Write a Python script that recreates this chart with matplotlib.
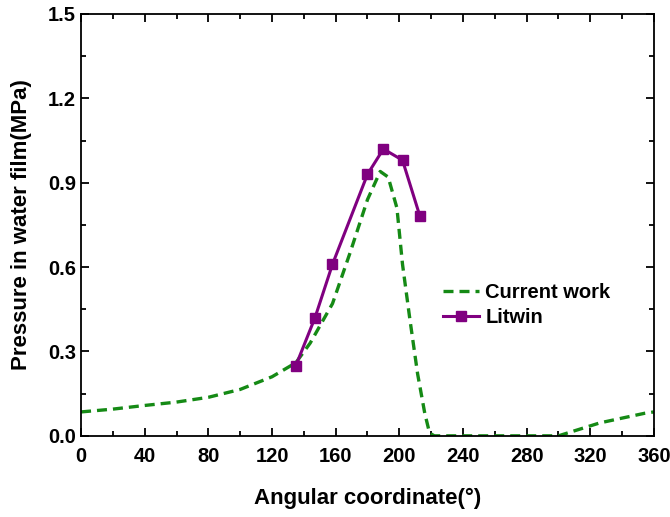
import numpy as np
import matplotlib.pyplot as plt
from matplotlib.ticker import MultipleLocator

plt.rcParams['font.family'] = ['Liberation Sans', 'DejaVu Sans']
plt.rcParams['font.weight'] = 'bold'

# Current work (simulation)
cur_angle = [0, 20, 40, 60, 80, 100, 120, 135, 144, 158, 169, 180, 188, 193,
             198.5, 202, 206.5, 211.5, 216, 219, 222, 240, 260, 280, 300,
             326, 354, 360]
cur_press = [0.085, 0.095, 0.108, 0.12, 0.137, 0.165, 0.21, 0.26, 0.33, 0.47,
             0.65, 0.84, 0.94, 0.92, 0.81, 0.61, 0.42, 0.22, 0.08, 0.01,
             0.0, 0.0, 0.0, 0.0, 0.0, 0.046, 0.08, 0.085]

# Litwin (experiment)
lit_angle = [135, 147, 158, 180, 190, 202, 213]
lit_press = [0.25, 0.42, 0.61, 0.93, 1.02, 0.98, 0.78]

fig = plt.figure(figsize=(6.7, 5.17), dpi=100)
ax = fig.add_axes([0.121, 0.157, 0.855, 0.816])

ax.plot(cur_angle, cur_press, ls=(0, (3, 1.8)), color='#158a15', lw=2.4,
        label='Current work')
ax.plot(lit_angle, lit_press, '-s', color='#800080', lw=2.2, ms=6.5,
        label='Litwin')

ax.set_xlim(0, 360)
ax.set_ylim(0, 1.5)
ax.xaxis.set_major_locator(MultipleLocator(40))
ax.xaxis.set_minor_locator(MultipleLocator(20))
ax.yaxis.set_major_locator(MultipleLocator(0.3))
ax.yaxis.set_minor_locator(MultipleLocator(0.15))
ax.yaxis.set_major_formatter(plt.FormatStrFormatter('%.1f'))
ax.tick_params(which='both', direction='in', top=True, right=True, width=1.3)
ax.tick_params(which='major', length=6, labelsize=14.5)
ax.tick_params(axis='x', which='major', pad=8)
ax.tick_params(which='minor', length=3.5)
for s in ax.spines.values():
    s.set_linewidth(1.3)

ax.set_xlabel('Angular coordinate(°)', fontsize=16, fontweight='bold', labelpad=16)
ax.set_ylabel('Pressure in water film(MPa)', fontsize=16, fontweight='bold', labelpad=12)

ax.legend(loc='upper left', bbox_to_anchor=(0.60, 0.405), frameon=False,
          fontsize=14.5, handlelength=1.8, handletextpad=0.3, labelspacing=0.3)

fig.savefig('out.png', dpi=100)
